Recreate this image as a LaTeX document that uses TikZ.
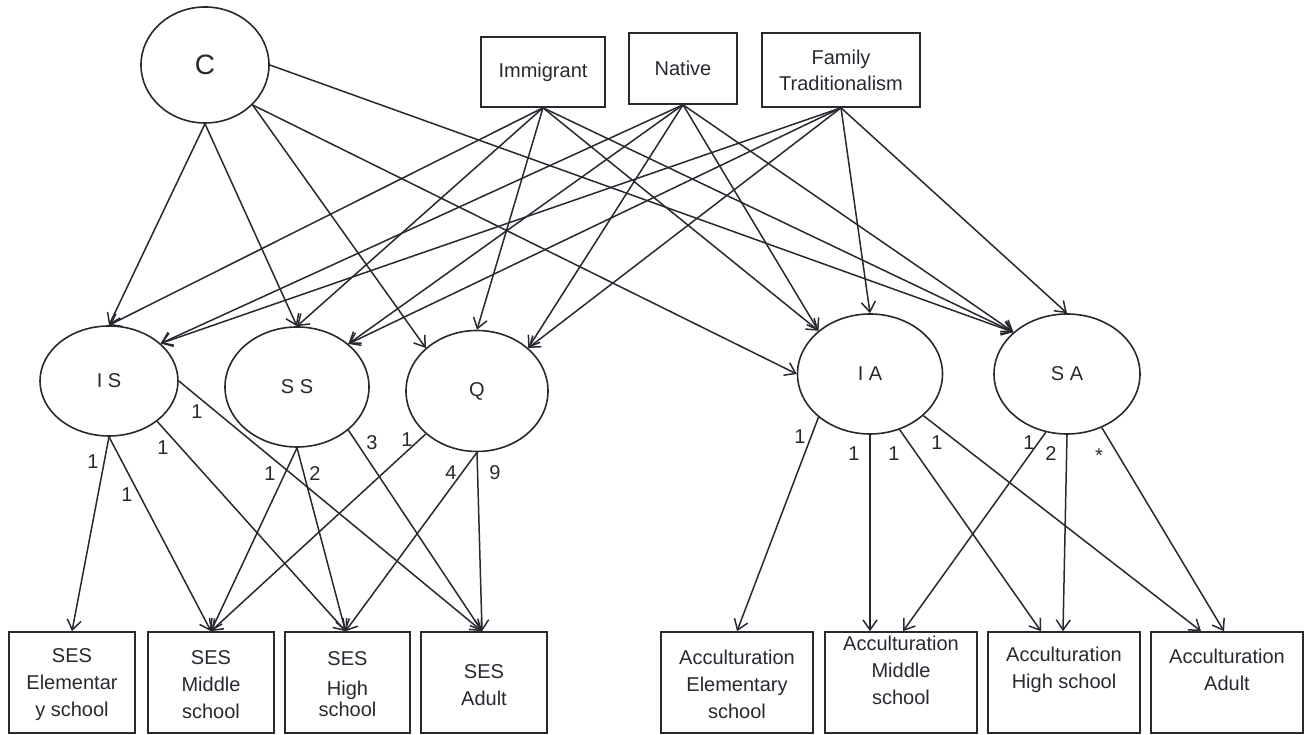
\documentclass[tikz,border=0pt]{standalone}
\usepackage{fontspec}
\setmainfont{Liberation Sans}
\usetikzlibrary{shapes.geometric,arrows.meta,calc}
\definecolor{ink}{RGB}{40,40,48}
\begin{document}
\begin{tikzpicture}[x=1pt,y=1pt,
  latent/.style={ellipse, draw=ink, line width=1.6pt, inner sep=0pt, text=ink,
                 font=\fontsize{20}{24}\selectfont},
  obs/.style={rectangle, draw=ink, line width=1.6pt, inner sep=0pt, text=ink,
              font=\fontsize{20}{26}\selectfont, align=center},
  lowbox/.style={obs, minimum height=101pt},
  btext/.style={align=center, text=ink, inner sep=0pt, font=\fontsize{20}{27}\selectfont},
  pathway/.style={draw=ink, line width=1.5pt, -{Straight Barb[length=10pt,width=14pt]}},
  coef/.style={text=ink, inner sep=0pt, font=\fontsize{20}{24}\selectfont}]
\useasboundingbox (0,0) rectangle (1306,735);

% latent factors
\node[latent, minimum width=128pt, minimum height=116pt, font=\fontsize{28}{32}\selectfont] (C) at (205,670) {C};
\node[latent, minimum width=138pt, minimum height=110pt] (IS) at (109,354) {I S};
\node[latent, minimum width=144pt, minimum height=120pt] (SS) at (297,348) {S S};
\node[latent, minimum width=142pt, minimum height=121pt] (Q) at (477,344) {Q};
\node[latent, minimum width=145pt, minimum height=120pt] (IA) at (870,361) {I A};
\node[latent, minimum width=146pt, minimum height=120pt] (SA) at (1067,361) {S A};

% covariates
\node[obs, minimum width=124pt, minimum height=70pt] (imm) at (543,663) {Immigrant};
\node[obs, minimum width=108pt, minimum height=71pt] (nat) at (683,666.5) {Native};
\node[obs, minimum width=158pt, minimum height=74pt] (fam) at (841,665) {Family\\Traditionalism};

% observed indicators
\node[lowbox, minimum width=126pt] (sesE) at (72,52.5) {};
\node[lowbox, minimum width=126pt] (sesM) at (211,52.5) {};
\node[lowbox, minimum width=125pt] (sesH) at (347.5,52.5) {};
\node[lowbox, minimum width=126pt] (sesA) at (484,52.5) {};
\node[lowbox, minimum width=152pt] (accE) at (737,52.5) {};
\node[lowbox, minimum width=152pt] (accM) at (901,52.5) {};
\node[lowbox, minimum width=152pt] (accH) at (1064,52.5) {};
\node[lowbox, minimum width=152pt] (accA) at (1227,52.5) {};

\node[btext] (sesE-t) at (72,50.5) {SES\\Elementar\\y school};
\node[btext] (sesM-t) at (211,50.5) {SES\\Middle\\school};
\node[btext] (sesH-t) at (347.5,51) {SES\\[3pt]High\\[-6pt]school};
\node[btext] (sesA-t) at (484,50) {SES\\Adult};
\node[btext] (accE-t) at (737,50.5) {Acculturation\\Elementary\\school};
\node[btext] (accM-t) at (901,65) {Acculturation\\Middle\\school};
\node[btext] (accH-t) at (1064,65) {Acculturation\\High school};
\node[btext] (accA-t) at (1227,65) {Acculturation\\Adult};

% structural paths from C
\draw[pathway] (C.south) -- (IS.north);
\draw[pathway] (C.south) -- (SS.north);
\draw[pathway] (C.-40) -- (Q.140);
\draw[pathway] (C.-40) -- (IA.west);
\draw[pathway] (C.east) -- (SA.142);

% paths from the covariates
\draw[pathway] (imm.south) -- (IS.north);
\draw[pathway] (imm.south) -- (SS.north);
\draw[pathway] (imm.south) -- (Q.north);
\draw[pathway] (imm.south) -- (IA.140);
\draw[pathway] (imm.south) -- (SA.142);

\draw[pathway] (nat.south) -- (IS.36);
\draw[pathway] (nat.south) -- (SS.40);
\draw[pathway] (nat.south) -- (Q.40);
\draw[pathway] (nat.south) -- (IA.140);
\draw[pathway] (nat.south) -- (SA.142);

\draw[pathway] (fam.south) -- (IS.36);
\draw[pathway] (fam.south) -- (SS.40);
\draw[pathway] (fam.south) -- (Q.40);
\draw[pathway] (fam.south) -- (IA.north);
\draw[pathway] (fam.south) -- (SA.north);

% SES growth loadings
\draw[pathway] (IS.south) -- (sesE.north);
\draw[pathway] (IS.south) -- (sesM.north);
\draw[pathway] (IS.-40) -- ($(sesH.north)+(-2,0)$);
\draw[pathway] (IS.east) -- ($(sesA.north)+(-2,0)$);
\draw[pathway] (SS.south) -- (sesM.north);
\draw[pathway] (SS.south) -- ($(sesH.north)+(-2,0)$);
\draw[pathway] (SS.-40) -- ($(sesA.north)+(-2,0)$);
\draw[pathway] (Q.-140) -- (sesM.north);
\draw[pathway] (Q.south) -- ($(sesH.north)+(-2,0)$);
\draw[pathway] (Q.south) -- ($(sesA.north)+(-2,0)$);

% acculturation growth loadings
\draw[pathway] (IA.-140) -- (accE.north);
\draw[pathway] (IA.south) -- (IA.south |- accM.north);
\draw[pathway] (IA.-62) -- ($(accH.north)+(-23,0)$);
\draw[pathway] (IA.-38) -- ($(accA.north)+(-26,0)$);
\draw[pathway] (SA.-110) -- ($(accM.north)+(2,0)$);
\draw[pathway] (SA.south) -- ($(accH.north)+(-1,0)$);
\draw[pathway] (SA.-57) -- ($(accA.north)+(-3,0)$);

% loading values
\node[coef] (k1) at (197,323) {1};
\node[coef] (k2) at (93,273) {1};
\node[coef] (k3) at (127,240) {1};
\node[coef] (k4) at (163,287) {1};
\node[coef] (k5) at (270,261) {1};
\node[coef] (k6) at (315,261) {2};
\node[coef] (k7) at (372,292) {3};
\node[coef] (k8) at (407,295) {1};
\node[coef] (k9) at (451,262) {4};
\node[coef] (k10) at (495,262) {9};
\node[coef] (k11) at (800,298) {1};
\node[coef] (k12) at (854,281) {1};
\node[coef] (k13) at (894,281) {1};
\node[coef] (k14) at (937,292) {1};
\node[coef] (k15) at (1029,292) {1};
\node[coef] (k16) at (1051,281) {2};
\node[coef] (k17) at (1099,279) {*};
\end{tikzpicture}
\end{document}
